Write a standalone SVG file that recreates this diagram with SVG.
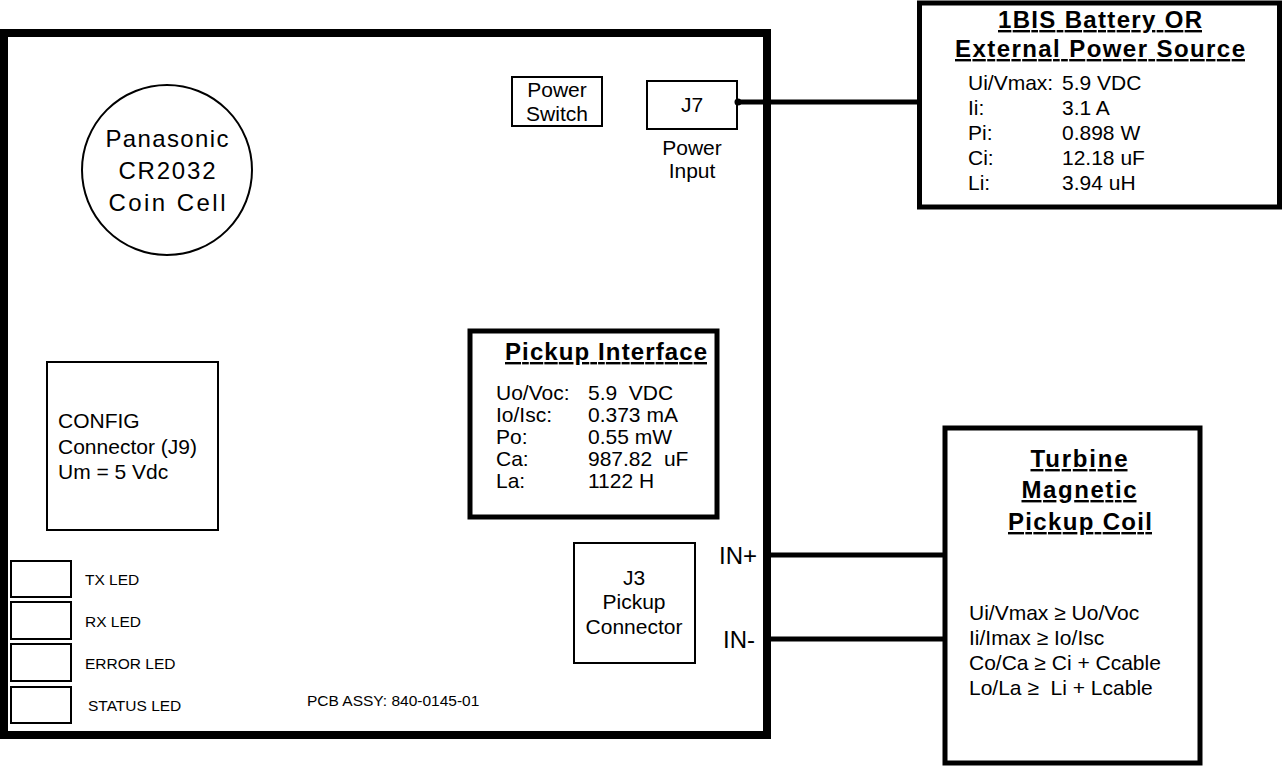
<svg xmlns="http://www.w3.org/2000/svg" width="1284" height="767" viewBox="0 0 1284 767">
<style>
text{font-family:"Liberation Sans",Arial,sans-serif;fill:#000;white-space:pre}
.t21{font-size:21px}
.t24{font-size:24px}
.led{font-size:15.5px}
.ttl{font-size:24px;font-weight:bold;text-decoration:underline}
.c{text-anchor:middle}
.thin{fill:#fff;stroke:#000;stroke-width:2}
.wire{stroke:#000;stroke-width:5;fill:none}
</style>
<rect width="1284" height="767" fill="#fff"/>
<g id="board">
<rect x="4" y="33" width="763" height="702" fill="#fff" stroke="#000" stroke-width="8"/>
<text class="led" x="307" y="706">PCB ASSY: 840-0145-01</text>
</g>
<g id="coin-cell">
<circle cx="167" cy="170" r="85" class="thin"/>
<text class="t24 c" x="167" y="147" textLength="123">Panasonic</text>
<text class="t24 c" x="167" y="179" textLength="97">CR2032</text>
<text class="t24 c" x="167" y="211" textLength="117">Coin Cell</text>
</g>
<g id="power-switch">
<rect x="512" y="77" width="90" height="49" class="thin"/>
<text class="t21 c" x="557" y="97">Power</text>
<text class="t21 c" x="557" y="121">Switch</text>
</g>
<g id="j7">
<rect x="647" y="81" width="90" height="48" class="thin"/>
<text class="t21 c" x="692" y="112">J7</text>
<text class="t21 c" x="692" y="155">Power</text>
<text class="t21 c" x="692" y="178">Input</text>
</g>
<g id="pickup-interface">
<rect x="470" y="331" width="247" height="186" fill="#fff" stroke="#000" stroke-width="5"/>
<text class="ttl c" x="606" y="360" textLength="202">Pickup Interface</text>
<text class="t21" x="496" y="400">Uo/Voc:</text><text class="t21" x="588" y="400" xml:space="preserve">5.9  VDC</text>
<text class="t21" x="496" y="422">Io/Isc:</text><text class="t21" x="588" y="422">0.373 mA</text>
<text class="t21" x="496" y="444">Po:</text><text class="t21" x="588" y="444">0.55 mW</text>
<text class="t21" x="496" y="466">Ca:</text><text class="t21" x="588" y="466" xml:space="preserve">987.82  uF</text>
<text class="t21" x="496" y="488">La:</text><text class="t21" x="588" y="488">1122 H</text>
</g>
<g id="config">
<rect x="47" y="362" width="171" height="168" class="thin"/>
<text class="t21" x="58" y="428">CONFIG</text>
<text class="t21" x="58" y="454">Connector (J9)</text>
<text class="t21" x="58" y="479">Um = 5 Vdc</text>
</g>
<g id="tx-led">
<rect x="11" y="561" width="60" height="36" class="thin"/>
<text class="led" x="85" y="585">TX LED</text>
</g>
<g id="rx-led">
<rect x="11" y="602" width="60" height="37" class="thin"/>
<text class="led" x="85" y="627">RX LED</text>
</g>
<g id="error-led">
<rect x="11" y="644" width="60" height="37" class="thin"/>
<text class="led" x="85" y="669">ERROR LED</text>
</g>
<g id="status-led">
<rect x="11" y="687" width="60" height="36" class="thin"/>
<text class="led" x="88" y="711">STATUS LED</text>
</g>
<g id="j3">
<rect x="574" y="543" width="121" height="120" class="thin"/>
<text class="t21 c" x="634" y="585">J3</text>
<text class="t21 c" x="634" y="609">Pickup</text>
<text class="t21 c" x="634" y="634">Connector</text>
<text class="t24" x="757" y="564" text-anchor="end">IN+</text>
<text class="t24" x="755" y="648" text-anchor="end">IN-</text>
</g>
<g id="battery">
<rect x="919.5" y="3" width="360" height="204" fill="#fff" stroke="#000" stroke-width="5"/>
<text class="ttl c" x="1100" y="28" textLength="204">1BIS Battery OR</text>
<text class="ttl c" x="1100" y="57" textLength="290">External Power Source</text>
<text class="t21" x="968" y="90">Ui/Vmax:</text><text class="t21" x="1062" y="90">5.9 VDC</text>
<text class="t21" x="968" y="115">Ii:</text><text class="t21" x="1062" y="115">3.1 A</text>
<text class="t21" x="968" y="140">Pi:</text><text class="t21" x="1062" y="140">0.898 W</text>
<text class="t21" x="968" y="165">Ci:</text><text class="t21" x="1062" y="165">12.18 uF</text>
<text class="t21" x="968" y="190">Li:</text><text class="t21" x="1062" y="190">3.94 uH</text>
</g>
<g id="turbine">
<rect x="945" y="428" width="255" height="335" fill="#fff" stroke="#000" stroke-width="5"/>
<text class="ttl c" x="1079" y="467" textLength="97">Turbine</text>
<text class="ttl c" x="1079" y="498" textLength="115">Magnetic</text>
<text class="ttl c" x="1080" y="530" textLength="144">Pickup Coil</text>
<text class="t21" x="969" y="620">Ui/Vmax ≥ Uo/Voc</text>
<text class="t21" x="969" y="645">Ii/Imax ≥ Io/Isc</text>
<text class="t21" x="969" y="670">Co/Ca ≥ Ci + Ccable</text>
<text class="t21" x="969" y="695" xml:space="preserve">Lo/La ≥  Li + Lcable</text>
</g>
<g id="connectors">
<line class="wire" x1="737" y1="102" x2="919" y2="102"/>
<circle cx="738" cy="102" r="3.5" fill="#000"/>
<line class="wire" x1="771" y1="555" x2="945" y2="555" stroke-width="6"/>
<line class="wire" x1="771" y1="639" x2="945" y2="639" stroke-width="6"/>
</g>
</svg>
